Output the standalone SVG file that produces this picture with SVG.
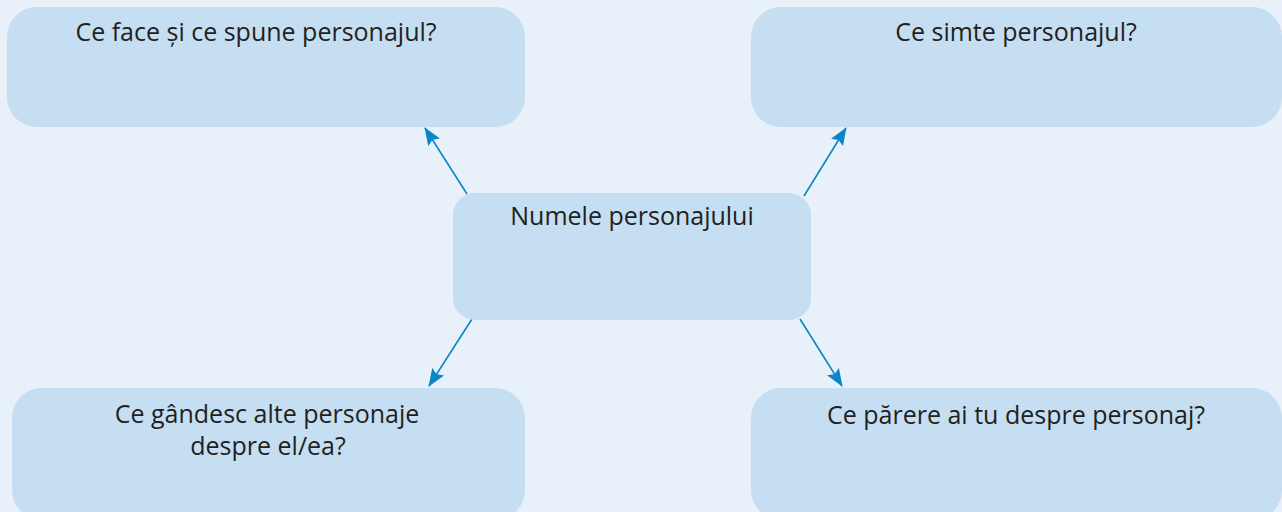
<svg xmlns="http://www.w3.org/2000/svg" width="1282" height="512" viewBox="0 0 1282 512">
<style>
.box{fill:#c5def2}
.t{font-family:"Open Sans","Noto Sans",sans-serif;font-size:25px;fill:#231f20;text-anchor:middle}
.c{stroke:#0a86c8;stroke-width:1.6;fill:none;marker-end:url(#ah)}
</style>
<defs>
<marker id="ah" markerUnits="userSpaceOnUse" markerWidth="18" markerHeight="14" viewBox="0 0 18 14" refX="17" refY="7" orient="auto">
<path d="M0,0 L18,7 L0,14 L3,7 z" fill="#0a86c8"/>
</marker>
</defs>
<rect width="1282" height="512" fill="#e8f1f9"/>
<g id="connectors">
<line class="c" x1="467" y1="194" x2="425" y2="128"/>
<line class="c" x1="804" y1="196" x2="846" y2="128"/>
<line class="c" x1="472" y1="319" x2="429" y2="386"/>
<line class="c" x1="800" y1="319" x2="842" y2="386"/>
</g>
<g id="node-fapte">
<rect class="box" x="7" y="7" width="518" height="120" rx="30"/>
<text class="t" x="256" y="41">Ce face și ce spune personajul?</text>
</g>
<g id="node-simte">
<rect class="box" x="751" y="7" width="531" height="120" rx="30"/>
<text class="t" x="1016" y="41">Ce simte personajul?</text>
</g>
<g id="node-nume">
<rect class="box" x="453" y="193" width="358" height="127" rx="22"/>
<text class="t" x="632" y="225">Numele personajului</text>
</g>
<g id="node-altii">
<rect class="box" x="12" y="388" width="513" height="132" rx="30"/>
<text class="t" x="267" y="423">Ce gândesc alte personaje</text>
<text class="t" x="268" y="455">despre el/ea?</text>
</g>
<g id="node-parere">
<rect class="box" x="751" y="388" width="531" height="132" rx="30"/>
<text class="t" x="1016" y="424">Ce părere ai tu despre personaj?</text>
</g>
</svg>
